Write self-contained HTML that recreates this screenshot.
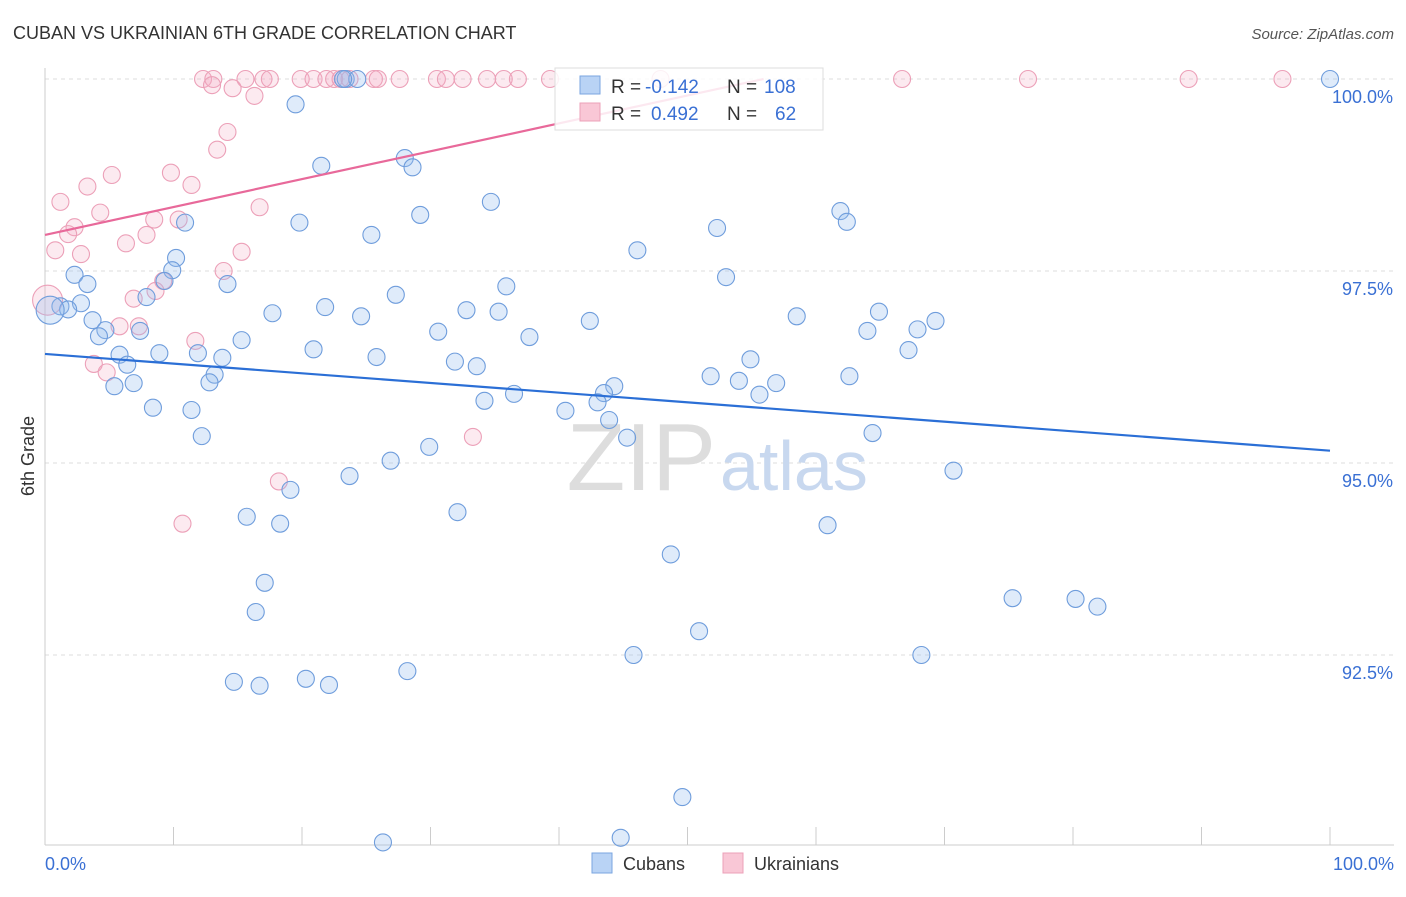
<!DOCTYPE html>
<html><head><meta charset="utf-8"><style>
body{margin:0;background:#fff;font-family:"Liberation Sans",sans-serif;}
svg text{font-family:"Liberation Sans",sans-serif;}
</style></head><body>
<svg id="chart" width="1406" height="892" viewBox="0 0 1406 892" xmlns="http://www.w3.org/2000/svg">
<text x="13" y="39" font-size="18" fill="#333">CUBAN VS UKRAINIAN 6TH GRADE CORRELATION CHART</text>
<text x="1394" y="39" font-size="15" fill="#555" text-anchor="end" font-style="italic">Source: ZipAtlas.com</text>
<g id="grid"></g>
<g id="axes"></g>
<text x="716" y="490" font-size="96" text-anchor="end" fill="#ddd" font-family="Liberation Serif">ZIP</text>
<text x="720" y="490" font-size="70" fill="#c8d8ef">atlas</text>
<g id="pts"></g>
<g id="lines"></g>
<text transform="translate(34,456) rotate(-90)" font-size="18" fill="#333" text-anchor="middle">6th Grade</text>
<g>
<rect x="555" y="68" width="268" height="62" fill="rgba(255,255,255,0.85)" stroke="#ddd"/>
<rect x="580" y="76" width="20" height="18" fill="#b9d3f5" stroke="#7aa6e0"/>
<rect x="580" y="103" width="20" height="18" fill="#f9c7d6" stroke="#eca0b8"/>
<text x="611" y="93" font-size="19" fill="#333">R =</text>
<text x="645" y="93" font-size="19" fill="#3a70d4">-0.142</text>
<text x="727" y="93" font-size="19" fill="#333">N =</text>
<text x="764" y="93" font-size="19" fill="#3a70d4">108</text>
<text x="611" y="120" font-size="19" fill="#333">R =</text>
<text x="651" y="120" font-size="19" fill="#3a70d4">0.492</text>
<text x="727" y="120" font-size="19" fill="#333">N =</text>
<text x="775" y="120" font-size="19" fill="#3a70d4">62</text>
</g>
<g>
<rect x="592" y="853" width="20" height="20" fill="#b9d3f5" stroke="#7aa6e0"/>
<text x="623" y="870" font-size="18" fill="#333">Cubans</text>
<rect x="723" y="853" width="20" height="20" fill="#f9c7d6" stroke="#eca0b8"/>
<text x="754" y="870" font-size="18" fill="#333">Ukrainians</text>
</g>
</svg>
<script>
const blueX=[100,19.5,21.5,28.0,28.6,23.4,24.3,23.2,34.7,29.2,19.8,10.9,25.4,52.3,61.9,62.4,46.1,53.0,2.3,3.3,10.2,9.9,9.3,14.2,7.9,2.8,1.2,1.8,3.7,4.7,4.2,7.4,17.7,21.8,27.3,35.9,32.8,35.3,24.6,42.4,30.6,37.7,15.3,20.9,8.9,5.8,11.9,13.8,25.8,31.9,33.6,6.4,58.5,64.9,64.0,67.9,69.3,67.2,54.9,51.8,54.0,56.9,55.6,62.6,13.2,12.8,6.9,5.4,44.3,43.5,43.0,36.5,34.2,40.5,8.4,11.4,43.9,45.3,12.2,64.4,29.9,26.9,23.7,70.7,19.1,15.7,18.3,32.1,60.9,48.7,17.1,16.4,75.3,80.2,81.9,50.9,45.8,68.2,28.2,14.7,16.7,20.3,22.1,49.6,26.3,44.8,0.4];
const blueY=[100,99.67,98.87,98.97,98.85,100,100,100,98.40,98.23,98.13,98.13,97.97,98.06,98.28,98.14,97.77,97.42,97.45,97.33,97.67,97.51,97.37,97.33,97.16,97.08,97.04,97.0,96.86,96.73,96.65,96.72,96.95,97.03,97.19,97.30,96.99,96.97,96.91,96.85,96.71,96.64,96.60,96.48,96.43,96.41,96.43,96.37,96.38,96.32,96.26,96.28,96.91,96.97,96.72,96.74,96.85,96.47,96.35,96.13,96.07,96.04,95.89,96.13,96.15,96.05,96.04,96.0,96.0,95.91,95.79,95.90,95.81,95.68,95.72,95.69,95.56,95.33,95.35,95.39,95.21,95.03,94.83,94.90,94.65,94.30,94.21,94.36,94.19,93.81,93.44,93.06,93.24,93.23,93.13,92.81,92.50,92.50,92.29,92.15,92.10,92.19,92.11,90.65,90.06,90.12,96.99];
const pinkX=[12.3,13.1,15.6,17.0,17.5,19.9,20.9,21.9,22.5,23.0,23.7,25.6,25.9,27.6,30.5,31.2,32.5,34.4,35.7,36.8,39.3,47.9,66.7,76.5,89.0,96.3,13.0,14.6,16.3,14.2,13.4,5.2,9.8,11.4,3.3,1.2,4.3,16.7,8.5,10.4,2.3,1.8,7.9,6.3,0.8,2.8,15.3,13.9,9.2,8.6,6.9,5.8,7.3,11.7,3.8,4.8,33.3,18.2,10.7,0.2];
const pinkY=[100,100,100,100,100,100,100,100,100,100,100,100,100,100,100,100,100,100,100,100,100,100,100,100,100,100,99.92,99.88,99.78,99.31,99.08,98.75,98.78,98.62,98.60,98.40,98.26,98.33,98.17,98.17,98.07,97.98,97.97,97.86,97.77,97.72,97.75,97.50,97.37,97.24,97.14,96.78,96.78,96.59,96.29,96.18,95.34,94.76,94.21,97.12];
const yTicks=[100,97.5,95,92.5];
const yTickLabels=["100.0%","97.5%","95.0%","92.5%"];
const xTicks=[0,10,20,30,40,50,60,70,80,90,100];
const blueTrend=[96.42,95.16];
const pinkTrend=[97.97,0.0363];
const sx=v=>45+v*12.85, sy=v=>79+(100-v)*76.8;
const NS="http://www.w3.org/2000/svg";
function mk(tag,attrs,parent){const e=document.createElementNS(NS,tag);for(const k in attrs)e.setAttribute(k,attrs[k]);parent.appendChild(e);return e;}
const grid=document.getElementById('grid'),axes=document.getElementById('axes'),pts=document.getElementById('pts'),lines=document.getElementById('lines');
yTicks.forEach((t,i)=>{
 const l=mk('line',{x1:45,x2:1394,y1:sy(t),y2:sy(t),stroke:'#ddd','stroke-dasharray':'4,4'},grid);
 
 
 const tx=mk('text',{x:1393,y:sy(t)+24,'font-size':18,fill:'#3a70d4','text-anchor':'end'},axes);
 tx.textContent=yTickLabels[i];
 
 
});
const ya=mk('line',{x1:45,x2:45,y1:68,y2:845,stroke:'#ccc'},axes);


const xa=mk('line',{x1:45,x2:1394,y1:845,y2:845,stroke:'#ccc'},axes);


xTicks.forEach(t=>{
 const l=mk('line',{x1:sx(t),x2:sx(t),y1:827,y2:845,stroke:'#ccc'},axes);
 
 
});
const xl0=mk('text',{x:45,y:870,'font-size':18,fill:'#3a70d4'},axes);xl0.textContent='0.0%';


const xl1=mk('text',{x:1394,y:870,'font-size':18,fill:'#3a70d4','text-anchor':'end'},axes);xl1.textContent='100.0%';


pinkX.forEach((x,i)=>{
 const c=mk('circle',{cx:sx(x),cy:sy(pinkY[i]),r:(x<0.5?15:8.5),fill:'rgba(244,170,195,0.25)',stroke:'#eca0b8','stroke-width':1.1},pts);
 
 
});
blueX.forEach((x,i)=>{
 const c=mk('circle',{cx:sx(x),cy:sy(blueY[i]),r:(x<0.5?14:8.5),fill:'rgba(150,190,240,0.3)',stroke:'#6f9ddc','stroke-width':1.1},pts);
 
 
});
const bl=mk('line',{x1:sx(0),y1:sy(blueTrend[0]),x2:sx(100),y2:sy(blueTrend[1]),stroke:'#2b6fd6','stroke-width':2.2},lines);


const pEnd=(100-pinkTrend[0])/pinkTrend[1];
const pl=mk('line',{x1:sx(0),y1:sy(pinkTrend[0]),x2:sx(pEnd),y2:sy(100),stroke:'#e8699a','stroke-width':2.2},lines);


</script>
</body></html>
